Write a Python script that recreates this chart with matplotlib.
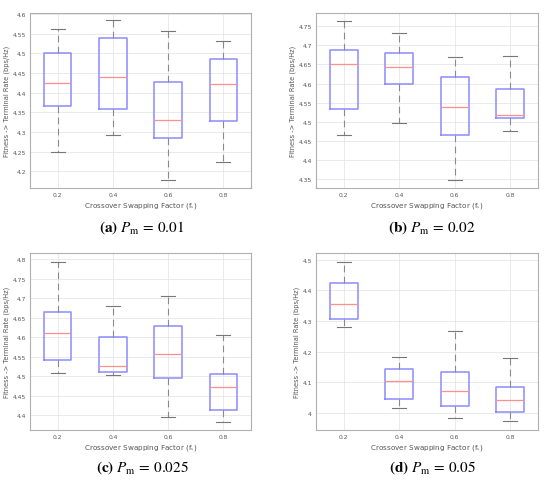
import matplotlib
matplotlib.use("Agg")
import matplotlib.pyplot as plt
from matplotlib.ticker import FuncFormatter, MultipleLocator

plt.rcParams["mathtext.fontset"] = "stix"

categories = ["0.2", "0.4", "0.6", "0.8"]

# (whislo, q1, med, q3, whishi) per category for each panel
a_lo  = [4.250, 4.293, 4.177, 4.224]
a_q1  = [4.365, 4.359, 4.284, 4.329]
a_med = [4.424, 4.439, 4.330, 4.422]
a_q3  = [4.501, 4.540, 4.428, 4.486]
a_hi  = [4.561, 4.584, 4.558, 4.531]

b_lo  = [4.465, 4.496, 4.347, 4.476]
b_q1  = [4.535, 4.600, 4.465, 4.509]
b_med = [4.650, 4.643, 4.540, 4.517]
b_q3  = [4.687, 4.680, 4.617, 4.587]
b_hi  = [4.764, 4.731, 4.670, 4.673]

c_lo  = [4.509, 4.503, 4.397, 4.384]
c_q1  = [4.541, 4.512, 4.495, 4.414]
c_med = [4.612, 4.526, 4.558, 4.472]
c_q3  = [4.666, 4.601, 4.628, 4.505]
c_hi  = [4.793, 4.680, 4.706, 4.607]

d_lo  = [4.282, 4.015, 3.981, 3.972]
d_q1  = [4.306, 4.046, 4.021, 4.002]
d_med = [4.356, 4.102, 4.070, 4.040]
d_q3  = [4.426, 4.144, 4.134, 4.085]
d_hi  = [4.4935, 4.181, 4.266, 4.179]

ylims = [(4.1575, 4.6025), (4.3274, 4.7857), (4.3632, 4.8154), (3.944, 4.5218)]
ysteps = [0.05, 0.05, 0.05, 0.1]
captions = [("(a)", "0.01"), ("(b)", "0.02"), ("(c)", "0.025"), ("(d)", "0.05")]

panels = [
    (a_lo, a_q1, a_med, a_q3, a_hi),
    (b_lo, b_q1, b_med, b_q3, b_hi),
    (c_lo, c_q1, c_med, c_q3, c_hi),
    (d_lo, d_q1, d_med, d_q3, d_hi),
]

W, H = 550, 481
fig = plt.figure(figsize=(5.5, 4.81), dpi=100)

# axes boxes in pixel coords (left, top, right, bottom)
boxes = [(30, 14, 251, 189), (316, 13.5, 538, 189),
         (30, 254.3, 251, 430.7), (316, 254.3, 538, 430.7)]
cap_pos = [(142, 228), (432, 228), (142, 468), (432, 468)]

gray_txt = "#555555"
for i, (pdata, box) in enumerate(zip(panels, boxes)):
    l, t, r, b = box
    ax = fig.add_axes([l / W, 1 - b / H, (r - l) / W, (b - t) / H])
    lo, q1, med, q3, hi = pdata
    stats = []
    for k in range(len(categories)):
        stats.append(dict(whislo=lo[k], q1=q1[k], med=med[k], q3=q3[k],
                          whishi=hi[k], fliers=[], label=categories[k]))
    ax.bxp(stats, positions=range(1, len(categories) + 1), widths=0.5,
           showfliers=False,
           boxprops=dict(color="#8c8cff", linewidth=1.1),
           medianprops=dict(color="#ff8f8f", linewidth=0.9),
           whiskerprops=dict(color="#8a8a8a", linewidth=0.8, linestyle=(0, (6, 4))),
           capprops=dict(color="#777777", linewidth=0.8),
           capwidths=0.25)
    ax.set_xlim(0.5, 4.5)
    ax.set_ylim(*ylims[i])
    ax.yaxis.set_major_locator(MultipleLocator(ysteps[i]))
    ax.yaxis.set_major_formatter(FuncFormatter(lambda v, p: "%g" % round(v, 3)))
    ax.set_xticks(range(1, len(categories) + 1))
    ax.set_xticklabels(categories)
    ax.grid(True, color="#e6e6e6", linewidth=0.6)
    ax.set_axisbelow(True)
    ax.tick_params(labelsize=4.3, colors=gray_txt, length=0, pad=3)
    for s in ax.spines.values():
        s.set_color("#b0b0b0")
        s.set_linewidth(0.8)
    ax.set_ylabel("Fitness -> Terminal Rate (bps/Hz)", fontsize=4.8, color=gray_txt, labelpad=1.5)
    ax.set_xlabel(r"Crossover Swapping Factor (f$_{\mathrm{s}}$)", fontsize=5.2, color=gray_txt, labelpad=2)
    lab, val = captions[i]
    cx, cy = cap_pos[i]
    fig.text(cx / W, 1 - cy / H,
             r"$\mathbf{" + lab + r"}\ P_{\mathrm{m}}\,=\," + val + "$",
             ha="center", va="center", fontsize=11, color="black")

fig.savefig("out.png", dpi=100)
